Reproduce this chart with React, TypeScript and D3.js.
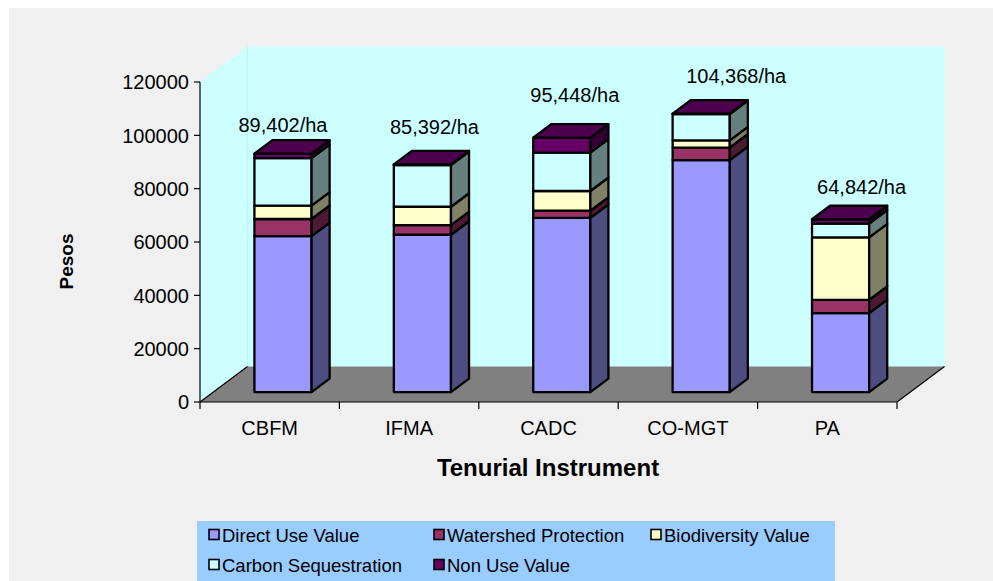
import React from 'react';
import * as d3 from 'd3';

const categories = ['CBFM', 'IFMA', 'CADC', 'CO-MGT', 'PA'];
const directUse = [58500, 59000, 65300, 87000, 29600];
const watershed = [6400, 3600, 2700, 4700, 5000];
const biodiversity = [5000, 6900, 7400, 2700, 23400];
const carbon = [17800, 15600, 14400, 9800, 5200];
const nonUse = [1700, 300, 5600, 200, 1600];
const totalLabels = ['89,402/ha', '85,392/ha', '95,448/ha', '104,368/ha', '64,842/ha'];
const yTicks = [0, 20000, 40000, 60000, 80000, 100000, 120000];
const seriesNames = ['Direct Use Value', 'Watershed Protection', 'Biodiversity Value', 'Carbon Sequestration', 'Non Use Value'];

// layout / style (not data)
const frontColors = ['#9999ff', '#993366', '#ffffcc', '#ccffff', '#660066'];
const sideColors = ['#4d4d80', '#4d1a33', '#808066', '#668080', '#330033'];
const topColor = '#4d004d';
const labelDx = [0, 12, 13, 35, 21];
const labelLift = [8, 17, 22, 17, 12];

const FONT = "'Liberation Sans', Arial, Helvetica, sans-serif";

export default function App() {
  const W = 993, H = 581;
  const x0 = 200, x1 = 897, yBase = 402, yTop = 82;
  const DX = 47.5, DY = 35.5;
  const fd = 0.28, bd = 0.38;

  const x = d3.scaleBand<string>().domain(categories).range([x0, x1]).padding(0);
  const y = d3.scaleLinear().domain([0, 120000]).range([yBase, yTop]);
  const bw = x.bandwidth() * 0.41;

  const series = [directUse, watershed, biodiversity, carbon, nonUse];
  const stack = d3.stack<number>().keys(seriesNames.map((_, i) => String(i)))
    .value((i, key) => series[+key][i]);
  const stacked = stack(categories.map((_, i) => i));

  const pts = (arr: number[][]) => arr.map(p => p.join(',')).join(' ');
  const bdx = bd * DX, bdy = bd * DY;

  const bars: JSX.Element[] = [];
  const labels: JSX.Element[] = [];
  categories.forEach((c, i) => {
    const fx0 = (x(c) as number) + (x.bandwidth() - bw) / 2 + fd * DX;
    const fx1 = fx0 + bw;
    let lastTop = 0;
    stacked.forEach((s, j) => {
      const [v0, v1] = s[i];
      const yt = y(v1) - fd * DY;
      const yb = y(v0) - fd * DY;
      lastTop = yt;
      bars.push(
        <g key={`b${i}-${j}`}>
          <polygon points={pts([[fx0, yt], [fx1, yt], [fx1, yb], [fx0, yb]])}
            fill={frontColors[j]} stroke="#000" strokeWidth={2.3} strokeLinejoin="round" />
          <polygon points={pts([[fx1, yt], [fx1 + bdx, yt - bdy], [fx1 + bdx, yb - bdy], [fx1, yb]])}
            fill={sideColors[j]} stroke="#000" strokeWidth={2.3} strokeLinejoin="round" />
        </g>
      );
    });
    bars.push(
      <polygon key={`t${i}`} points={pts([[fx0, lastTop], [fx1, lastTop], [fx1 + bdx, lastTop - bdy], [fx0 + bdx, lastTop - bdy]])}
        fill={topColor} stroke="#000" strokeWidth={2.3} strokeLinejoin="round" />
    );
    labels.push(
      <text key={`l${i}`} x={(fx0 + fx1) / 2 + labelDx[i]} y={lastTop - bdy - labelLift[i]}
        textAnchor="middle" fontSize={20} fontFamily={FONT} fill="#000">{totalLabels[i]}</text>
    );
  });

  const legendCols = [209, 434, 651];
  const legendRows = [535, 565];

  return (
    <svg width={W} height={H} style={{ position: 'absolute', left: 0, top: 0 }}>
      <rect x={0} y={0} width={W} height={H} fill="#ffffff" />
      <rect x={9} y={8} width={W - 9} height={H - 8} fill="#f0f0f0" />
      {/* walls */}
      <polygon points={pts([[x0 + DX, yTop - DY], [x1 + DX, yTop - DY], [x1 + DX, yBase - DY], [x0 + DX, yBase - DY]])} fill="#ccffff" />
      <polygon points={pts([[x0, yTop], [x0 + DX, yTop - DY], [x0 + DX, yBase - DY], [x0, yBase]])} fill="#ccffff" />
      <line x1={x0 + DX} y1={yTop - DY} x2={x0 + DX} y2={yBase - DY} stroke="#c2f4f4" strokeWidth={1} />
      {/* floor */}
      <polygon points={pts([[x0, yBase], [x1, yBase], [x1 + DX, yBase - DY], [x0 + DX, yBase - DY]])} fill="#808080" />
      <line x1={x0} y1={yBase} x2={x0 + DX} y2={yBase - DY} stroke="#000" strokeWidth={1.2} />
      <line x1={x1} y1={yBase} x2={x1 + DX} y2={yBase - DY} stroke="#000" strokeWidth={1.2} />
      {/* bars */}
      {bars}
      {labels}
      {/* y axis */}
      <line x1={x0} y1={yTop} x2={x0} y2={yBase} stroke="#000" strokeWidth={1.2} />
      {yTicks.map(t => (
        <g key={`yt${t}`}>
          <line x1={x0 - 6} x2={x0} y1={y(t)} y2={y(t)} stroke="#000" strokeWidth={1.2} />
          <text x={x0 - 11} y={y(t)} dy="0.36em" textAnchor="end" fontSize={20} fontFamily={FONT}>{t}</text>
        </g>
      ))}
      {/* x axis */}
      <line x1={x0} y1={yBase} x2={x1} y2={yBase} stroke="#000" strokeWidth={1.2} />
      {[...categories.map(c => x(c) as number), x1].map((t, i) => (
        <line key={`xt${i}`} x1={t} x2={t} y1={yBase} y2={yBase + 7} stroke="#000" strokeWidth={1.2} />
      ))}
      {categories.map(c => (
        <text key={`xl${c}`} x={(x(c) as number) + x.bandwidth() / 2} y={435} textAnchor="middle" fontSize={20} fontFamily={FONT}>{c}</text>
      ))}
      <text x={548} y={476} textAnchor="middle" fontSize={24} fontWeight="bold" fontFamily={FONT}>Tenurial Instrument</text>
      <text transform="translate(73,261.5) rotate(-90)" textAnchor="middle" fontSize={19} fontWeight="bold" fontFamily={FONT}>Pesos</text>
      {/* legend */}
      <rect x={197} y={521} width={638} height={70} fill="#99ccff" />
      {seriesNames.map((n, j) => {
        const col = j < 3 ? j : j - 3;
        const row = j < 3 ? 0 : 1;
        const lx = legendCols[col];
        const ly = legendRows[row];
        return (
          <g key={`lg${j}`}>
            <rect x={lx} y={ly - 5.5} width={10} height={10} fill={frontColors[j]} stroke="#000" strokeWidth={1.6} />
            <text x={lx + 13} y={ly} dy="0.36em" fontSize={18.5} fontFamily={FONT}>{n}</text>
          </g>
        );
      })}
    </svg>
  );
}
